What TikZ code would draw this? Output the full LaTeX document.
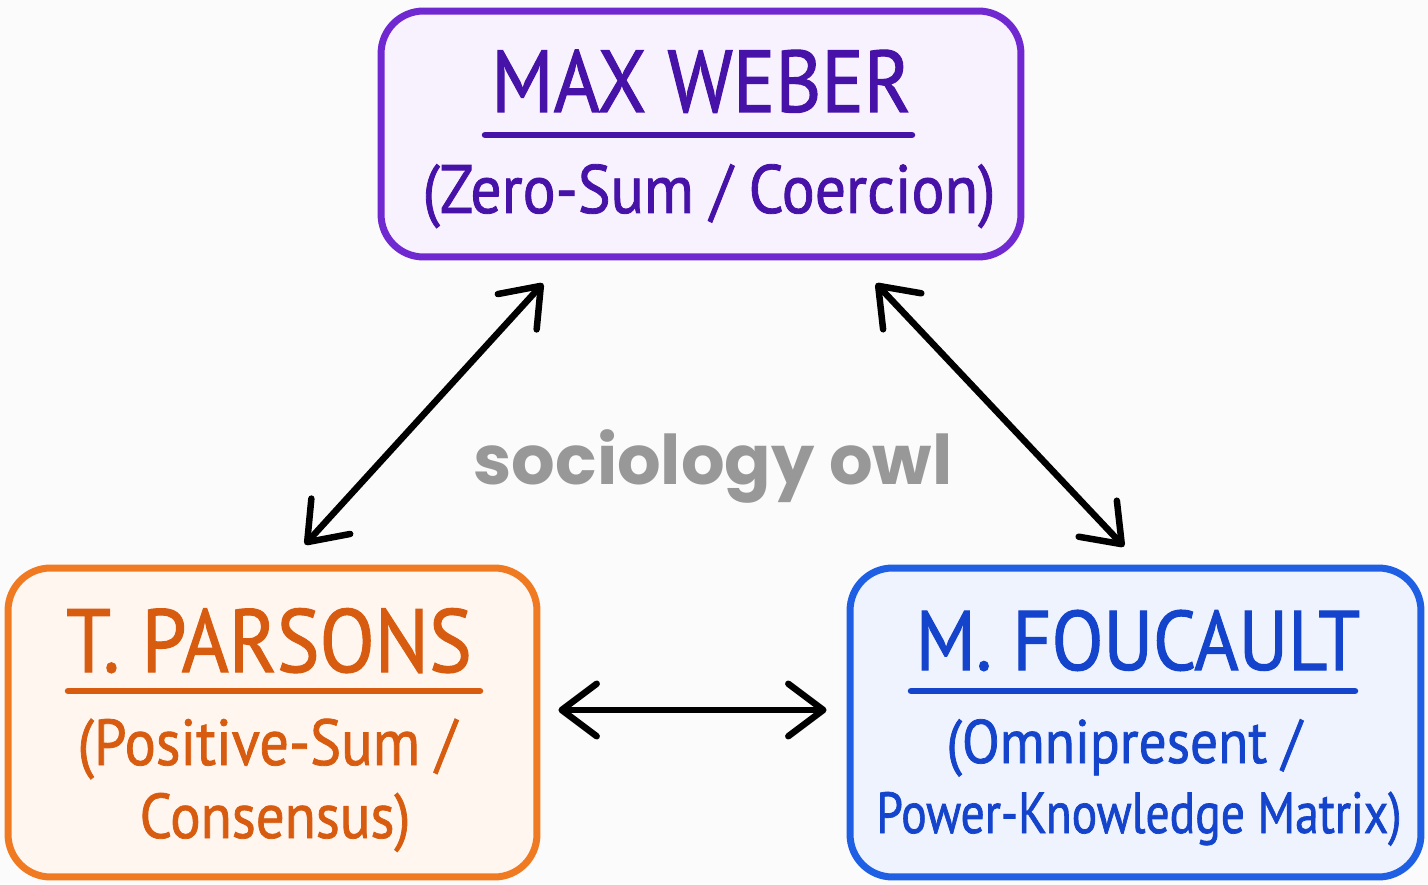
\documentclass[tikz,border=0pt]{standalone}
\usepackage{fontspec}
\setmainfont{PT Sans}[FakeStretch=0.9,FakeBold=1.2]
\newfontfamily\narrowfont{PT Sans}[FakeStretch=0.82,FakeBold=1.2]
\newfontfamily\owlfont{Poppins}
\usepackage{tikz}
\usetikzlibrary{arrows.meta}
\definecolor{bgcol}{RGB}{251,251,251}
\definecolor{webline}{RGB}{112,40,208}
\definecolor{webtext}{RGB}{70,18,168}
\definecolor{webfill}{RGB}{247,242,253}
\definecolor{parline}{RGB}{240,122,34}
\definecolor{partext}{RGB}{216,92,16}
\definecolor{parfill}{RGB}{255,246,239}
\definecolor{fouline}{RGB}{30,95,228}
\definecolor{foutext}{RGB}{20,68,204}
\definecolor{foufill}{RGB}{238,243,254}
\definecolor{owlgray}{RGB}{152,152,152}

\begin{document}
\begin{tikzpicture}[x=0.02cm,y=-0.02cm]
\tikzstyle{every node}+=[inner sep=0pt]
\tikzstyle{box}=[draw, rounded corners=0.85cm, line width=0.14cm]
\tikzstyle{title}=[anchor=base, font=\fontsize{50}{50}\selectfont]
\tikzstyle{sub}=[anchor=base, font=\fontsize{35}{36}\selectfont]
\tikzstyle{uline}=[line width=0.13cm, line cap=round]
\tikzstyle{link}=[line width=0.13cm, line cap=round, {Straight Barb[length=0.7cm,width=1.05cm,line cap=round,line join=round]}-{Straight Barb[length=0.7cm,width=1.05cm,line cap=round,line join=round]}]
\fill [bgcol] (0,0) rectangle (1428,885);
% the three boxes
\node [box, draw=webline, fill=webfill, minimum width=12.8cm, minimum height=4.92cm] (weber) at (701,134) {};
\node [box, draw=parline, fill=parfill, minimum width=10.58cm, minimum height=6.18cm] (parsons) at (272.5,722.5) {};
\node [box, draw=fouline, fill=foufill, minimum width=11.42cm, minimum height=6.18cm] (foucault) at (1135.5,722.5) {};
% weber
\node [title, text=webtext] (webername) at (701,112) {MAX WEBER};
\draw [uline, webtext] (485,135) -- (912,135);
\node [sub, text=webtext, font=\fontsize{39}{40}\selectfont] (weberkind) at (709,213) {(Zero-Sum / Coercion)};
% parsons
\node [title, text=partext, font=\fontsize{51}{52}\selectfont] (parsonsname) at (269,672) {T. PARSONS};
\draw [uline, partext] (68,691) -- (480,691);
\node [sub, text=partext, font=\fontsize{37}{38}\selectfont] (parsonskind) at (267,765) {(Positive-Sum /};
\node [sub, text=partext, font=\fontsize{36}{37}\selectfont] (parsonskindb) at (275,838) {Consensus)};
% foucault
\node [title, text=foutext, font=\fontsize{48}{49}\selectfont] (foucaultname) at (1138,670) {M. FOUCAULT};
\draw [uline, foutext] (911,691) -- (1355,691);
\node [sub, text=foutext] (foucaultkind) at (1124,763) {(Omnipresent /};
\node [sub, text=foutext, font=\narrowfont\fontsize{33}{34}\selectfont] (foucaultkindb) at (1139,833) {Power-Knowledge Matrix)};
% watermark
\node [anchor=base, text=owlgray, font=\owlfont\bfseries\fontsize{39}{39}\selectfont] (owl) at (713,484) {sociology owl};
% links
\draw [link] ([xshift=-3.16cm,yshift=-0.46cm]weber.south) -- ([xshift=0.65cm,yshift=0.4cm]parsons.north);
\draw [link] ([xshift=3.5cm,yshift=-0.46cm]weber.south) -- ([xshift=-0.23cm,yshift=0.36cm]foucault.north);
\draw [link] ([xshift=0.36cm,yshift=0.25cm]parsons.east) -- ([xshift=-0.4cm,yshift=0.25cm]foucault.west);
\end{tikzpicture}
\end{document}
